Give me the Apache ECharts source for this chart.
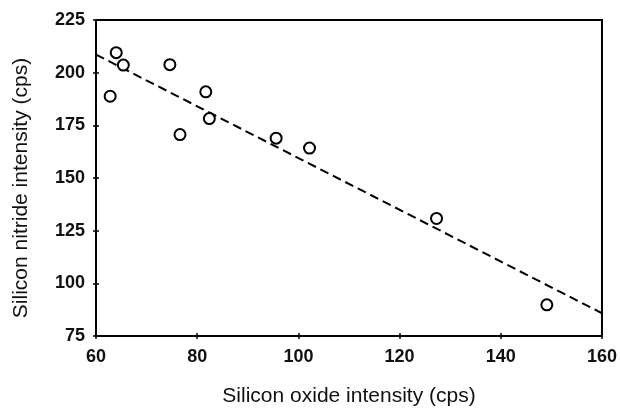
<!DOCTYPE html>
<html>
<head>
<meta charset="utf-8">
<script src="https://cdn.jsdelivr.net/npm/echarts@6/dist/echarts.min.js"></script>
<style>html,body{margin:0;padding:0;background:#fff}#c{width:620px;height:412px}</style>
</head>
<body>
<div id="c"></div>
<script>
// Data
var oxideIntensity = [64.0, 65.4, 62.8, 74.6, 81.7, 82.4, 76.6, 95.6, 102.2, 127.3, 149.1];
var nitrideIntensity = [209.5, 203.6, 188.8, 203.8, 190.9, 178.2, 170.6, 168.9, 164.2, 130.8, 89.8];
var fitX = [60, 160];
var fitY = [208.6, 85.8];
var xTicks = [60, 80, 100, 120, 140, 160];
var yTicks = [75, 100, 125, 150, 175, 200, 225];

var points = oxideIntensity.map(function (x, i) { return [x, nitrideIntensity[i]]; });
var fitLine = fitX.map(function (x, i) { return [x, fitY[i]]; });

var chart = echarts.init(document.getElementById('c'), null, {renderer: 'canvas'});
var tickFont = {fontFamily: 'Liberation Sans, Arial, sans-serif', fontSize: 18, fontWeight: 'bold', color: '#111'};
var nameFont = {fontFamily: 'Liberation Sans, Arial, sans-serif', fontSize: 21, color: '#111'};
var common = {
  axisLine: {show: true, onZero: false, lineStyle: {color: '#000', width: 2}},
  splitLine: {show: false}
};
chart.setOption({
  animation: false,
  backgroundColor: '#fff',
  grid: {left: 96, right: 18, top: 20, bottom: 73, show: true, borderColor: '#000', borderWidth: 2, backgroundColor: 'transparent'},
  xAxis: [
    Object.assign({}, common, {
      type: 'value', min: xTicks[0], max: xTicks[xTicks.length - 1], interval: 20,
      axisTick: {show: true, inside: false, length: 3, lineStyle: {color: '#000', width: 1.5}},
      axisLabel: Object.assign({margin: 12}, tickFont),
      name: 'Silicon oxide intensity (cps)', nameLocation: 'middle', nameGap: 50, nameTextStyle: nameFont
    }),
    Object.assign({}, common, {
      type: 'value', min: xTicks[0], max: xTicks[xTicks.length - 1], interval: 20, position: 'bottom',
      axisTick: {show: true, inside: true, length: 3, lineStyle: {color: '#000', width: 1.5}},
      axisLabel: {show: false}
    })
  ],
  yAxis: [
    Object.assign({}, common, {
      type: 'value', min: yTicks[0], max: yTicks[yTicks.length - 1], interval: 25,
      axisTick: {show: true, inside: false, length: 3, lineStyle: {color: '#000', width: 1.5}},
      axisLabel: Object.assign({margin: 11}, tickFont),
      name: 'Silicon nitride intensity (cps)', nameLocation: 'middle', nameGap: 64, nameRotate: 90,
      nameTextStyle: Object.assign({padding: [0, 20, 0, 0]}, nameFont)
    }),
    Object.assign({}, common, {
      type: 'value', min: yTicks[0], max: yTicks[yTicks.length - 1], interval: 25, position: 'left',
      axisTick: {show: true, inside: true, length: 3, lineStyle: {color: '#000', width: 1.5}},
      axisLabel: {show: false}
    })
  ],
  series: [
    {
      type: 'line', data: fitLine, symbol: 'none', xAxisIndex: 0, yAxisIndex: 0,
      lineStyle: {color: '#000', width: 2, type: [9, 5]}, z: 2
    },
    {
      type: 'scatter', data: points, symbol: 'circle', symbolSize: 11, xAxisIndex: 0, yAxisIndex: 0,
      itemStyle: {color: '#fff', borderColor: '#000', borderWidth: 2, opacity: 1}, z: 3
    }
  ]
});
</script>
</body>
</html>
